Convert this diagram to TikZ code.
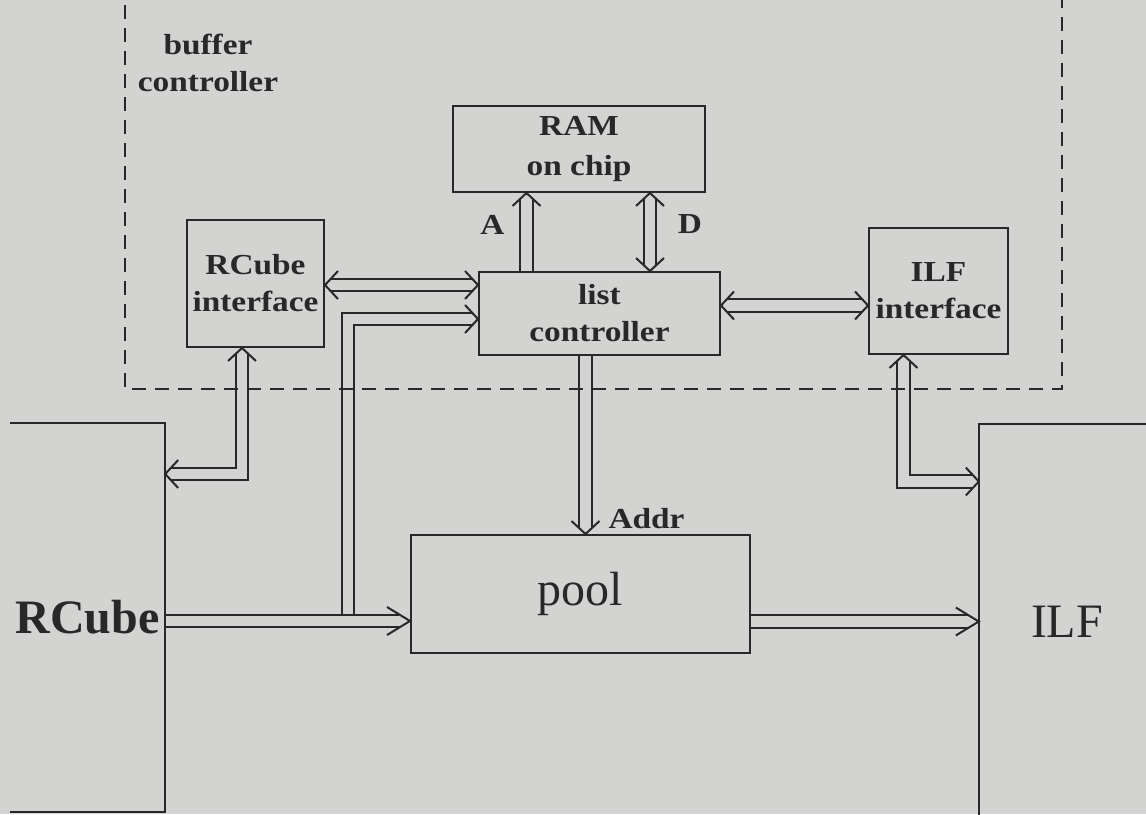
\documentclass[tikz,border=0pt]{standalone}
\usepackage{fontspec}
\setmainfont{Liberation Serif}
\newfontfamily\lblfont{Liberation Serif}[FakeStretch=1.15]
\usetikzlibrary{calc}
\definecolor{bgcol}{RGB}{211,211,210}
\definecolor{ink}{RGB}{40,40,40}
\pgfdeclarelayer{back}
\pgfdeclarelayer{conn}
\pgfsetlayers{back,conn,main}
\tikzset{
  box/.style={draw=ink, line width=2pt, rectangle, inner sep=0pt, align=center, text=ink,
    font=\lblfont\bfseries\fontsize{29}{37}\selectfont},
  lbl/.style={text=ink, inner sep=0pt, align=center,
    font=\lblfont\bfseries\fontsize{29}{37}\selectfont},
  bigbox/.style={inner sep=0pt, text=ink},
  bus/.style={draw=ink, line width=2pt, double=bgcol, double distance=10.5pt},
  border/.style={draw=ink, line width=2pt},
  dashbox/.style={draw=ink, line width=2.6pt, dash pattern=on 14pt off 9pt},
  chev/.pic={\draw[ink, line width=2pt] (-13,14) -- (0,0) -- (-13,-14);},
  chevlong/.pic={\draw[ink, line width=2pt] (-23,14) -- (0,0) -- (-23,-14);},
}
\begin{document}
\begin{tikzpicture}[x=1pt, y=-1pt]
\useasboundingbox (0,0) rectangle (1146,814);
\begin{pgfonlayer}{back}
  \fill[bgcol] (0,0) rectangle (1146,814);
\end{pgfonlayer}

% blocks
\node[box, minimum width=137pt, minimum height=127pt] (rci) at (255.5,283.5) {RCube\\interface};
\node[box, minimum width=252pt, minimum height=86pt, font=\lblfont\bfseries\fontsize{29}{40}\selectfont] (ram) at (579,149) {RAM\\on chip};
\node[box, minimum width=241pt, minimum height=83pt] (lc) at (599.5,313.5) {list\\controller};
\node[box, minimum width=139pt, minimum height=126pt] (ilfi) at (938.5,291) {ILF\\interface};
\node[box, minimum width=339pt, minimum height=118pt, font=\fontsize{48}{50}\selectfont] (pool) at (580.5,594) {pool};
\node[bigbox, minimum width=155pt, minimum height=389pt, font=\bfseries\fontsize{48}{50}\selectfont] (rcube) at (87.5,617.5) {RCube};
\node[bigbox, minimum width=176pt, minimum height=396pt, font=\fontsize{48}{50}\selectfont] (ilf) at (1067,622) {ILF};
\draw[border] (rcube.north west) -- (rcube.north east) -- (rcube.south east) -- (rcube.south west);
\draw[border] (ilf.south west) -- (ilf.north west) -- (ilf.north east);

% labels
\node[lbl] (bc) at (208,63) {buffer\\controller};
\node[lbl] (la) at (492.5,224.5) {A};
\node[lbl] (ld) at (690,224.5) {D};
\node[lbl] (laddr) at (646.5,519) {Addr};

\coordinate (tap) at (348,621);

\begin{pgfonlayer}{conn}
  % RCube interface <-> list controller
  \draw[bus, shorten <=6pt, shorten >=6pt] ($(rci.east)+(0,1.5)$) -- ($(lc.west)+(0,-28.5)$);
  \pic[rotate=180] at ($(rci.east)+(0,1.5)$) {chev};
  \pic at ($(lc.west)+(0,-28.5)$) {chev};
  % branch from RCube bus to list controller
  \draw[bus, shorten >=6pt] (tap) |- ($(lc.west)+(0,5.5)$);
  \pic at ($(lc.west)+(0,5.5)$) {chev};
  % RCube -> pool
  \draw[bus, shorten >=10.8pt] ($(rcube.east)+(0,3.5)$) -- ($(pool.west)+(0,27)$);
  \pic at ($(pool.west)+(0,27)$) {chevlong};
  % RCube interface <-> RCube
  \draw[bus, shorten <=6pt, shorten >=6pt] ($(rci.south)+(-13.5,0)$) |- ($(rcube.east)+(0,-143.5)$);
  \pic[rotate=90] at ($(rci.south)+(-13.5,0)$) {chev};
  \pic[rotate=180] at ($(rcube.east)+(0,-143.5)$) {chev};
  % A: list controller -> RAM
  \draw[bus, shorten >=6pt] ($(lc.north)+(-73,0)$) -- ($(ram.south)+(-52.5,0)$);
  \pic[rotate=90] at ($(ram.south)+(-52.5,0)$) {chev};
  % D: RAM <-> list controller
  \draw[bus, shorten <=6pt, shorten >=6pt] ($(lc.north)+(50.5,0)$) -- ($(ram.south)+(71,0)$);
  \pic[rotate=90] at ($(ram.south)+(71,0)$) {chev};
  \pic[rotate=-90] at ($(lc.north)+(50.5,0)$) {chev};
  % list controller <-> ILF interface
  \draw[bus, shorten <=6pt, shorten >=6pt] ($(lc.east)+(0,-8)$) -- ($(ilfi.west)+(0,14.5)$);
  \pic[rotate=180] at ($(lc.east)+(0,-8)$) {chev};
  \pic at ($(ilfi.west)+(0,14.5)$) {chev};
  % Addr: list controller -> pool
  \draw[bus, shorten >=6pt] ($(lc.south)+(-14,0)$) -- ($(pool.north)+(5,0)$);
  \pic[rotate=-90] at ($(pool.north)+(5,0)$) {chev};
  % ILF interface <-> ILF
  \draw[bus, shorten <=6pt, shorten >=6pt] ($(ilfi.south)+(-35,0)$) |- ($(ilf.west)+(0,-140.5)$);
  \pic[rotate=90] at ($(ilfi.south)+(-35,0)$) {chev};
  \pic at ($(ilf.west)+(0,-140.5)$) {chev};
  % pool -> ILF
  \draw[bus, shorten >=10.8pt] ($(pool.east)+(0,27.5)$) -- ($(ilf.west)+(0,-0.5)$);
  \pic at ($(ilf.west)+(0,-0.5)$) {chevlong};
\end{pgfonlayer}

% buffer controller boundary
\draw[dashbox] (125,5) -- (125,389) -- (1062,389) -- (1062,0);
\end{tikzpicture}
\end{document}
